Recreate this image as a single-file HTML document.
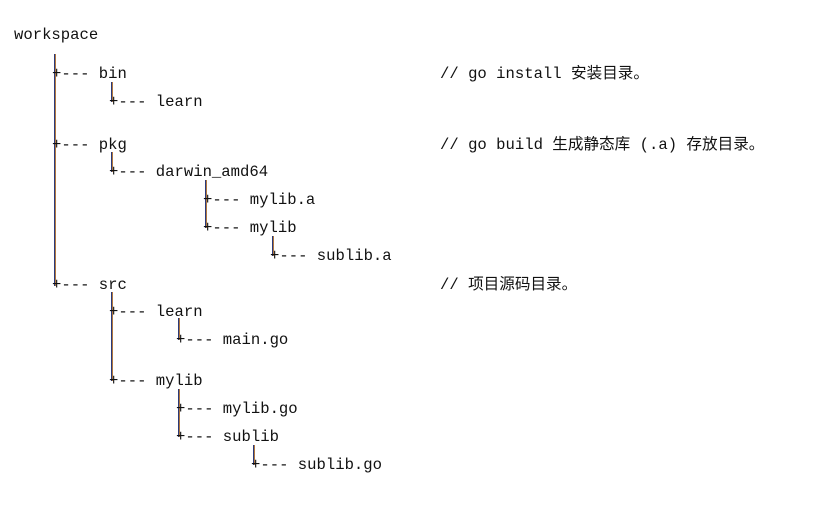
<!DOCTYPE html>
<html><head><meta charset="utf-8"><style>
html,body{margin:0;padding:0;background:#fff;width:833px;height:508px;overflow:hidden}
body{position:relative;font-family:"Liberation Mono","Noto Sans CJK SC",monospace;font-size:15.6px;color:#111}
.t{position:absolute;line-height:18px;white-space:pre;height:18px}
.c{font-family:"Liberation Mono","Noto Sans CJK SC",monospace}
.v{position:absolute;width:2px;background:linear-gradient(90deg,#2a3a7a 0 50%,#b07840 50% 100%)}
</style></head><body>
<div class="t" style="left:14px;top:26px">workspace</div>

<div class="v" style="left:54px;top:54px;height:232px"></div>
<div class="t" style="left:52px;top:65px">+--- bin</div>
<div class="v" style="left:111px;top:82px;height:20px"></div>
<div class="t" style="left:109px;top:93px">+--- learn</div>

<div class="t" style="left:52px;top:136px">+--- pkg</div>
<div class="v" style="left:111px;top:152px;height:20px"></div>
<div class="t" style="left:109px;top:163px">+--- darwin_amd64</div>
<div class="v" style="left:205px;top:180px;height:48px"></div>
<div class="t" style="left:203px;top:191px">+--- mylib.a</div>
<div class="t" style="left:203px;top:219px">+--- mylib</div>
<div class="v" style="left:272px;top:236px;height:20px"></div>
<div class="t" style="left:270px;top:247px">+--- sublib.a</div>

<div class="t" style="left:52px;top:276px">+--- src</div>
<div class="v" style="left:111px;top:292px;height:89px"></div>
<div class="t" style="left:109px;top:303px">+--- learn</div>
<div class="v" style="left:178px;top:318px;height:22px"></div>
<div class="t" style="left:176px;top:331px">+--- main.go</div>
<div class="t" style="left:109px;top:372px">+--- mylib</div>
<div class="v" style="left:178px;top:389px;height:48px"></div>
<div class="t" style="left:176px;top:400px">+--- mylib.go</div>
<div class="t" style="left:176px;top:428px">+--- sublib</div>
<div class="v" style="left:253px;top:445px;height:20px"></div>
<div class="t" style="left:251px;top:456px">+--- sublib.go</div>

<div class="t c" style="left:440px;top:65px">// go install 安装目录。</div>
<div class="t c" style="left:440px;top:136px">// go build 生成静态库 (.a) 存放目录。</div>
<div class="t c" style="left:440px;top:276px">// 项目源码目录。</div>
</body></html>
